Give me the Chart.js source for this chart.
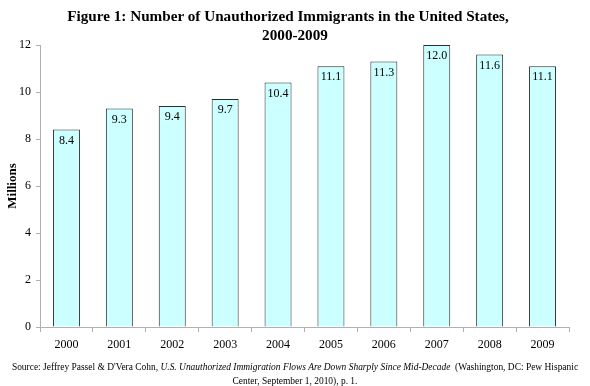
<!DOCTYPE html>
<html>
<head>
<meta charset="utf-8">
<script src="https://cdn.jsdelivr.net/npm/chart.js@4"></script>
<style>
  body { margin: 0; background: #fff; }
  #wrap { position: relative; width: 590px; height: 386px; font-family: 'Liberation Serif', 'Times New Roman', serif; }
  #title { position: absolute; left: 0; top: 6px; width: 590px; text-align: center; font-weight: bold; font-size: 15.2px; line-height: 19px; color: #000; }
  #title .l1 { position: relative; left: -7px; }
  #source { position: absolute; left: 0; top: 360px; width: 590px; text-align: center; font-size: 9.45px; line-height: 14px; color: #000; white-space: nowrap; }
</style>
</head>
<body>
<div id="wrap">
  <canvas id="chart" width="590" height="386"></canvas>
  <div id="title"><span class="l1">Figure 1: Number of Unauthorized Immigrants in the United States,</span><br>2000-2009</div>
  <div id="source">Source: Jeffrey Passel &amp; D'Vera Cohn, <i>U.S. Unauthorized Immigration Flows Are Down Sharply Since Mid-Decade</i> &nbsp;(Washington, DC: Pew Hispanic<br>Center, September 1, 2010), p. 1.</div>
</div>
<script>
const years = ['2000', '2001', '2002', '2003', '2004', '2005', '2006', '2007', '2008', '2009'];
const immigrants = [8.4, 9.3, 9.4, 9.7, 10.4, 11.1, 11.3, 12.0, 11.6, 11.1];

const serif = "'Liberation Serif', 'Times New Roman', serif";

// writes the value inside each bar, just under its top
const valueLabels = {
  id: 'valueLabels',
  afterDatasetsDraw(chart) {
    const ctx = chart.ctx;
    const meta = chart.getDatasetMeta(0);
    ctx.save();
    ctx.font = '12px ' + serif;
    ctx.fillStyle = '#000';
    ctx.textAlign = 'center';
    ctx.textBaseline = 'middle';
    meta.data.forEach((bar, i) => {
      ctx.fillText(immigrants[i].toFixed(1), bar.x, bar.y + 11);
    });
    ctx.restore();
  }
};

new Chart(document.getElementById('chart'), {
  type: 'bar',
  data: {
    labels: years,
    datasets: [{
      data: immigrants,
      backgroundColor: '#ccffff',
      borderColor: '#2b2b2b',
      borderWidth: 1,
      categoryPercentage: 1,
      barPercentage: 0.51
    }]
  },
  options: {
    responsive: false,
    animation: false,
    layout: { padding: { top: 45, right: 21, left: 0, bottom: 0 } },
    plugins: {
      legend: { display: false },
      tooltip: { enabled: false }
    },
    scales: {
      x: {
        afterFit(scale) { scale.height = 59; },
        grid: { drawOnChartArea: false, drawTicks: true, tickLength: 5, color: '#b0b0b0' },
        border: { color: '#b0b0b0' },
        ticks: { color: '#000', font: { family: serif, size: 12 }, padding: 6 }
      },
      y: {
        min: 0,
        max: 12,
        afterFit(scale) { scale.width = 40; },
        grid: { drawOnChartArea: false, drawTicks: true, tickLength: 4, color: '#b0b0b0' },
        border: { color: '#b0b0b0' },
        ticks: { stepSize: 2, color: '#000', font: { family: serif, size: 12 }, padding: 5 },
        title: { display: true, text: 'Millions', color: '#000', font: { family: serif, size: 13, weight: 'bold' }, padding: { top: 5, bottom: 0 } }
      }
    }
  },
  plugins: [valueLabels]
});
</script>
</body>
</html>
